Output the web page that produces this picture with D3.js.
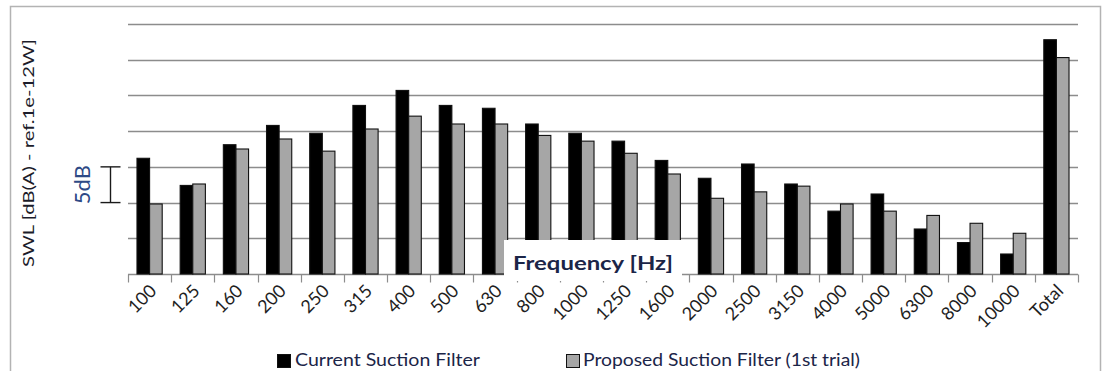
<!DOCTYPE html>
<html>
<head>
<meta charset="utf-8">
<script src="https://cdn.jsdelivr.net/npm/d3@7"></script>
<style>
  html, body { margin: 0; padding: 0; background: #fff; }
  svg { display: block; }
  text { font-family: Lato, "Open Sans", sans-serif; }
</style>
</head>
<body>
<svg id="chart" width="1106" height="371"></svg>
<script>
// Third-octave band centre frequencies plus the overall level
const categories = ["100","125","160","200","250","315","400","500","630","800","1000",
  "1250","1600","2000","2500","3150","4000","5000","6300","8000","10000","Total"];

// Sound power levels, dB above the chart baseline
const currentFilter = [16.2, 12.4, 18.1, 20.8, 19.7, 23.6, 25.7, 23.6, 23.2, 21.0, 19.7,
  18.6, 15.9, 13.4, 15.4, 12.6, 8.8, 11.2, 6.3, 4.4, 2.8, 32.8];
const proposedFilter = [9.8, 12.6, 17.5, 18.9, 17.2, 20.3, 22.1, 21.0, 21.0, 19.4, 18.6,
  16.9, 14.0, 10.6, 11.5, 12.3, 9.8, 8.8, 8.2, 7.1, 5.7, 30.3];

const seriesNames = ["Current Suction Filter", "Proposed Suction Filter (1st trial)"];
const seriesColors = ["#000000", "#a6a6a6"];
const gridValues = [5, 10, 15, 20, 25, 30, 35];
const scaleBar = [10, 15];   // the 5 dB reference bracket

const svg = d3.select("#chart");
const plotLeft = 128, plotRight = 1078, plotTop = 24, plotBottom = 274;

const x = d3.scaleBand().domain(categories).range([plotLeft, plotRight]).padding(0);
const barW = x.bandwidth() * 0.292;
const xs = d3.scaleBand().domain([0, 1]).range([0, 2 * barW]).padding(0);
const y = d3.scaleLinear().domain([0, 35]).range([plotBottom, plotTop]);

// chart frame
svg.append("rect").attr("x", 10.5).attr("y", 6.5).attr("width", 1090).attr("height", 370)
  .attr("fill", "none").attr("stroke", "#b3b3b3").attr("stroke-width", 1.5);

// horizontal gridlines
svg.append("g").selectAll("line").data(gridValues).join("line")
  .attr("x1", plotLeft).attr("x2", plotRight)
  .attr("y1", d => Math.round(y(d)) + 0.5).attr("y2", d => Math.round(y(d)) + 0.5)
  .attr("stroke", "#8c8c8c").attr("stroke-width", 1.4);

// category axis with ticks on the band boundaries
const xAxis = svg.append("g").attr("transform", `translate(0,${plotBottom + 0.5})`);
xAxis.append("line").attr("x1", plotLeft).attr("x2", plotRight)
  .attr("stroke", "#8c8c8c").attr("stroke-width", 1.4);
const boundaries = categories.map(c => x(c)).concat([plotRight]);
xAxis.selectAll("line.tick").data(boundaries).join("line").attr("class", "tick")
  .attr("x1", d => Math.round(d) + 0.5).attr("x2", d => Math.round(d) + 0.5)
  .attr("y1", 0).attr("y2", 8)
  .attr("stroke", "#8c8c8c").attr("stroke-width", 1.2);

// bars
const groups = svg.append("g").selectAll("g").data(categories).join("g")
  .attr("transform", c => `translate(${x(c) + (x.bandwidth() - 2 * barW) / 2},0)`);
groups.selectAll("rect").data((c, i) => [currentFilter[i], proposedFilter[i]]).join("rect")
  .attr("x", (d, j) => xs(j))
  .attr("width", barW)
  .attr("y", d => y(d))
  .attr("height", d => y(0) - y(d))
  .attr("fill", (d, j) => seriesColors[j])
  .attr("stroke", "#111").attr("stroke-width", 1.1);

// rotated category labels
svg.append("g").selectAll("text").data(categories).join("text")
  .attr("transform", c => `translate(${x(c) + x.bandwidth() / 2 + 8},${plotBottom + 18}) rotate(-45)`)
  .attr("text-anchor", "end")
  .attr("font-size", 18)
  .attr("fill", "#1e1e1e")
  .text(c => c);

// axis title box
svg.append("rect").attr("x", 504).attr("y", 240).attr("width", 178).attr("height", 41)
  .attr("fill", "#fff");
svg.append("text").attr("x", 513).attr("y", 270)
  .attr("font-size", 19).attr("font-weight", "bold").attr("fill", "#1b2548")
  .attr("textLength", 160).attr("lengthAdjust", "spacingAndGlyphs")
  .text("Frequency [Hz]");

// vertical axis title
svg.append("text").attr("transform", "translate(34,153) rotate(-90)")
  .attr("text-anchor", "middle").attr("font-size", 16).attr("fill", "#1c1c2a")
  .attr("textLength", 228).attr("lengthAdjust", "spacingAndGlyphs")
  .text("SWL [dB(A) - ref.1e-12W]");

// 5 dB reference bracket
const bx = 110.5;
const bracket = svg.append("g").attr("stroke", "#1a1a1a").attr("stroke-width", 1.4);
bracket.append("line").attr("x1", bx).attr("x2", bx)
  .attr("y1", y(scaleBar[1])).attr("y2", y(scaleBar[0]));
scaleBar.forEach(v => bracket.append("line").attr("x1", bx - 10).attr("x2", bx + 10)
  .attr("y1", y(v)).attr("y2", y(v)));
svg.append("text")
  .attr("transform", `translate(90,${(y(scaleBar[0]) + y(scaleBar[1])) / 2}) rotate(-90)`)
  .attr("text-anchor", "middle").attr("font-size", 22).attr("fill", "#2e4a86")
  .text("5dB");

// legend
const legendItems = [
  { name: seriesNames[0], color: seriesColors[0], sx: 277, tx: 295, tw: 185 },
  { name: seriesNames[1], color: seriesColors[1], sx: 566, tx: 583, tw: 277 }
];
const lg = svg.append("g").selectAll("g").data(legendItems).join("g");
lg.append("rect").attr("x", d => d.sx + 0.5).attr("y", 354.5).attr("width", 13).attr("height", 13)
  .attr("fill", d => d.color).attr("stroke", "#111").attr("stroke-width", 1);
lg.append("text").attr("x", d => d.tx).attr("y", 366)
  .attr("font-size", 17).attr("fill", "#1b2548")
  .attr("textLength", d => d.tw).attr("lengthAdjust", "spacingAndGlyphs")
  .text(d => d.name);
</script>
</body>
</html>
